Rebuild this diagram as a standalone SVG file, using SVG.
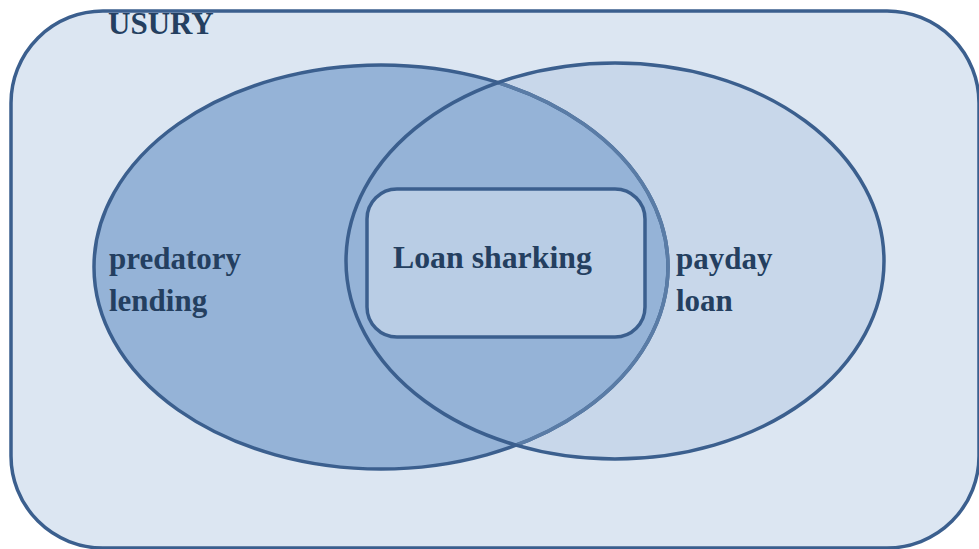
<svg xmlns="http://www.w3.org/2000/svg" width="979" height="549" viewBox="0 0 979 549">
<style>
.lbl{font-family:"Liberation Serif","Times New Roman",serif;font-weight:bold;fill:#243f60;font-size:31px}
.st{stroke:#3b5f8e;stroke-width:3.5}
</style>
<defs>
<clipPath id="inRight"><ellipse cx="615" cy="261" rx="269" ry="198"/></clipPath>
</defs>
<rect width="979" height="549" fill="#ffffff"/>
<g id="usury">
<rect x="11" y="11" width="968" height="537" rx="92" ry="92" fill="#dce6f2" class="st"/>
<text class="lbl" x="108" y="34">USURY</text>
</g>
<g id="payday-loan">
<ellipse cx="615" cy="261" rx="269" ry="198" fill="#c8d7ea"/>
</g>
<g id="predatory-lending">
<ellipse cx="381" cy="267" rx="287" ry="202" fill="#95b3d7" class="st"/>
<ellipse cx="381" cy="267" rx="287" ry="202" fill="none" stroke="#5a7ca6" stroke-width="3.6" clip-path="url(#inRight)"/>
<text class="lbl" x="109" y="269">predatory</text>
<text class="lbl" x="109" y="311">lending</text>
</g>
<g id="payday-loan-outline">
<ellipse cx="615" cy="261" rx="269" ry="198" fill="none" class="st"/>
<text class="lbl" x="676" y="269">payday</text>
<text class="lbl" x="676" y="311">loan</text>
</g>
<g id="loan-sharking">
<rect x="367" y="189" width="278" height="148" rx="30" ry="30" fill="#b9cde5" class="st"/>
<text class="lbl" x="393" y="268" style="font-size:31.8px">Loan sharking</text>
</g>
<g id="connectors"/>
</svg>
